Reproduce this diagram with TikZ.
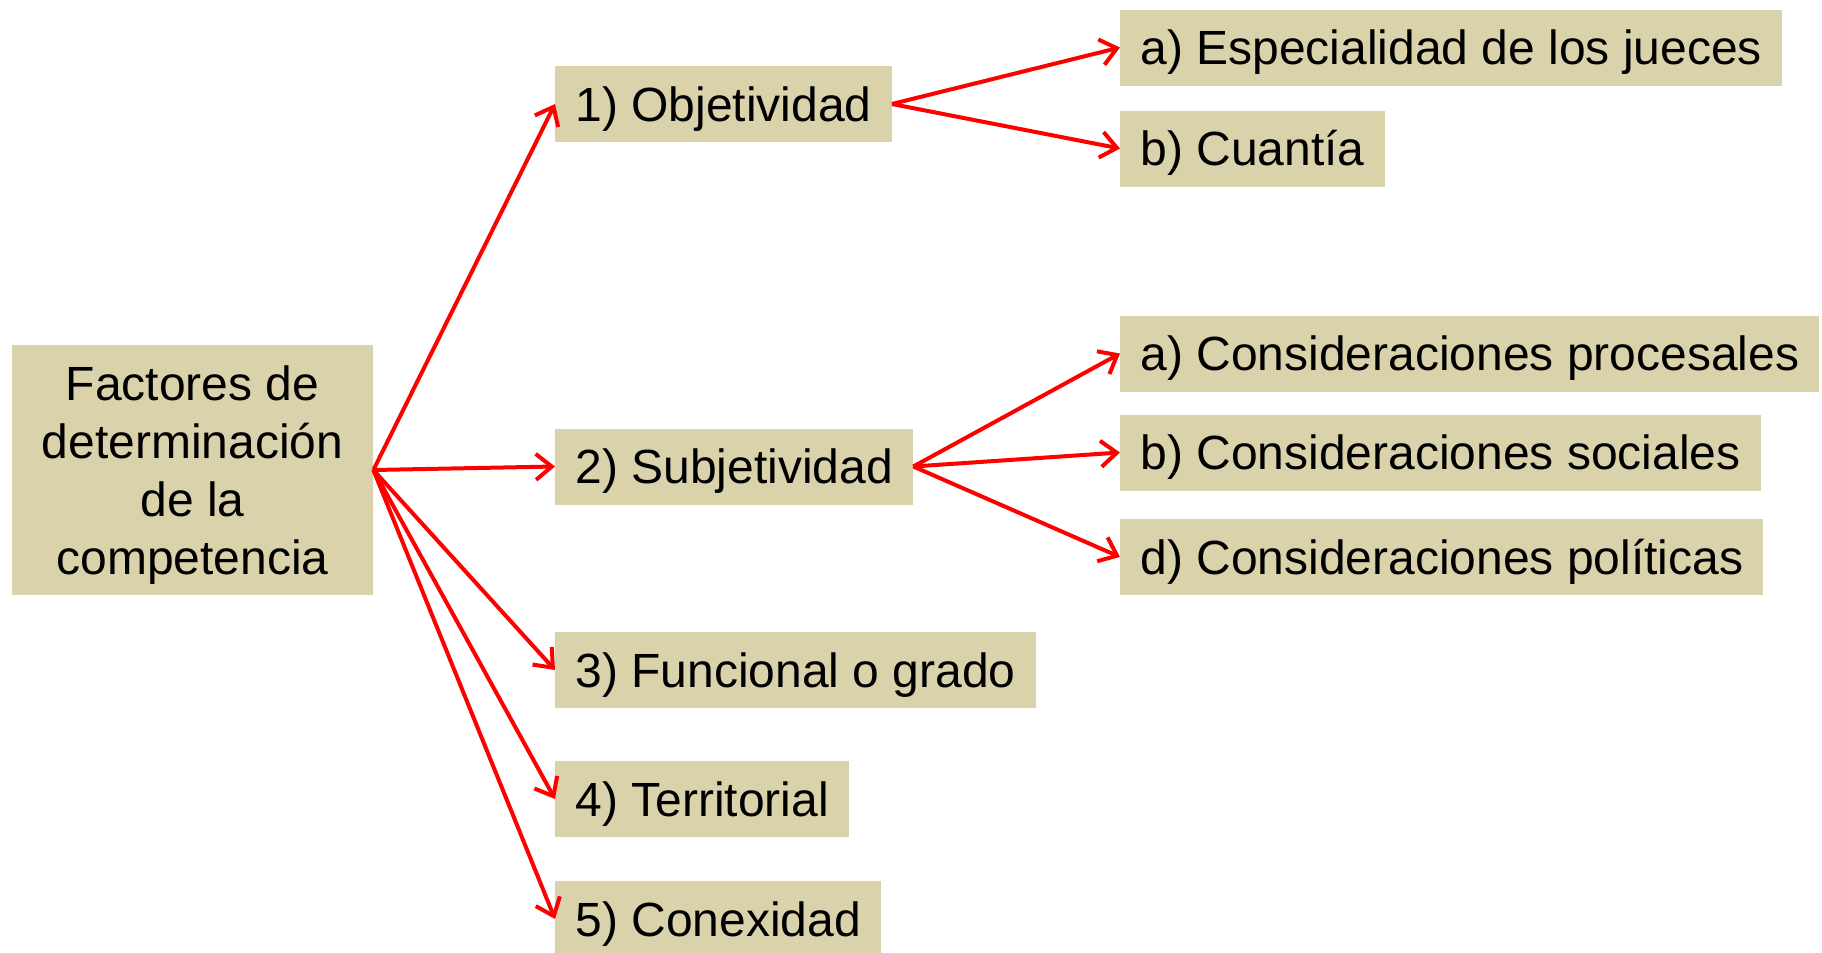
\documentclass[tikz,border=0pt]{standalone}
\usepackage{fontspec}
\setmainfont{Liberation Sans}
\usetikzlibrary{arrows.meta,positioning}
\definecolor{Khaki}{HTML}{D9D2AA}
\definecolor{ArrowRed}{HTML}{FF0000}

\begin{document}
\begin{tikzpicture}[x=0.5pt, y=-0.5pt,
  tile/.style={fill=Khaki, draw=none, anchor=west, minimum height=38pt,
               inner xsep=10pt, inner ysep=0pt, text height=22pt, text depth=5pt,
               font=\fontsize{24}{29}\selectfont},
  arr/.style={draw=ArrowRed, line width=2pt,
              -{Straight Barb[length=8pt,width=13pt]}}]
  \useasboundingbox (0,0) rectangle (1822,953);
  \node[tile, anchor=center, minimum width=180.5pt, minimum height=125pt,
        text height=, text depth=, align=center] (root) at (192.5,470)
        {\rule{0pt}{22.1pt}Factores de\\determinación\\de la\\competencia};
  \node[tile] (obj) at (555,104) {1) Objetividad};
  \node[tile] (sub) at (555,466.5) {2) Subjetividad};
  \node[tile] (fun) at (555,670) {3) Funcional o grado};
  \node[tile] (ter) at (555,799) {4) Territorial};
  \node[tile] (con) at (555,919) {5) Conexidad};
  \node[tile] (esp) at (1120,47.5) {a) Especialidad de los jueces};
  \node[tile] (cua) at (1120,148.5) {b) Cuantía};
  \node[tile] (pro) at (1120,353.5) {a) Consideraciones procesales};
  \node[tile] (soc) at (1120,452.5) {b) Consideraciones sociales};
  \node[tile] (pol) at (1120,557) {d) Consideraciones políticas};
  \draw[arr] (root.east) -- (obj.west);
  \draw[arr] (root.east) -- (sub.west);
  \draw[arr] (root.east) -- (fun.west);
  \draw[arr] (root.east) -- (ter.west);
  \draw[arr] (root.east) -- (con.west);
  \draw[arr] (obj.east) -- (esp.west);
  \draw[arr] (obj.east) -- (cua.west);
  \draw[arr] (sub.east) -- (pro.west);
  \draw[arr] (sub.east) -- (soc.west);
  \draw[arr] (sub.east) -- (pol.west);
\end{tikzpicture}
\end{document}
